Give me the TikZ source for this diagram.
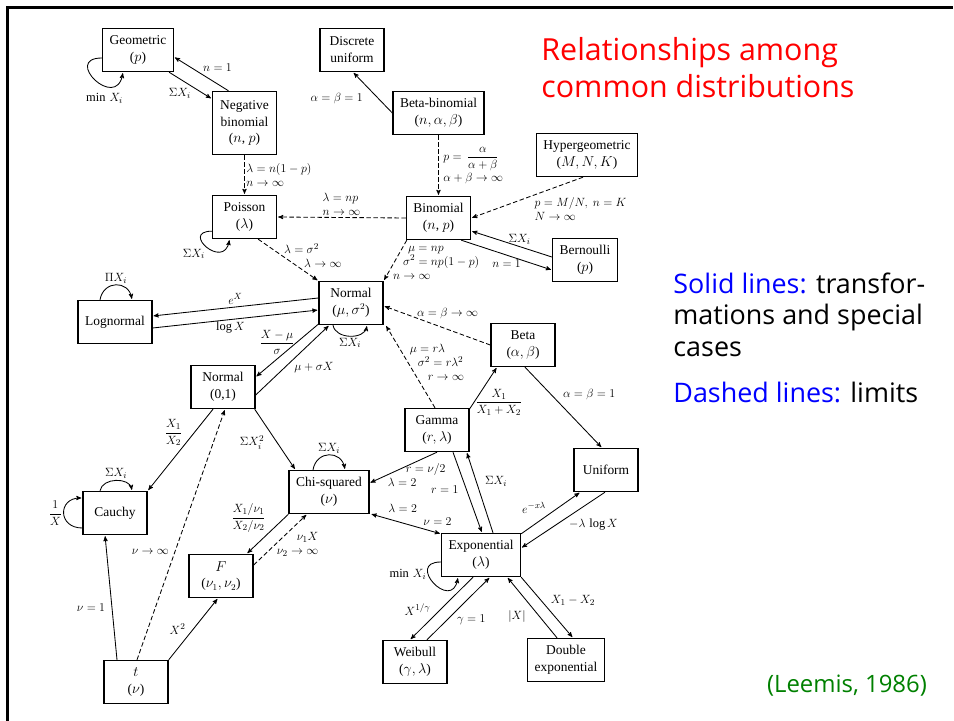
\documentclass[tikz,border=0pt]{standalone}
\usepackage{amsmath}
\usepackage{amssymb}
\usepackage{fontspec}
\setmainfont{Liberation Serif}
\newfontfamily\notefont{Open Sans}
\usepackage{tikz}
\usetikzlibrary{arrows}
\definecolor{leemisgreen}{RGB}{0,128,0}

\begin{document}
\begin{tikzpicture}[x=1bp, y=1bp, ->, >=stealth', shorten >=1pt, line width=0.85bp,
                    font=\fontsize{12.5}{14}\selectfont]

    \tikzstyle{dist}=[draw=black, line width=1.4bp, inner xsep=7bp, inner ysep=5bp,
                      minimum width=64bp, minimum height=43bp, align=center,
                      font=\fontsize{13.5}{17}\selectfont]
    \tikzstyle{lbl}=[inner sep=1.5bp, align=left, font=\fontsize{12.5}{14}\selectfont]
    \tikzstyle{limit}=[dash pattern=on 4.5bp off 2.5bp]

    \useasboundingbox (0,0) rectangle (954,-721);
    \draw[-, line width=2.2bp] (7.5,-721) -- (7.5,-7.5) -- (954,-7.5);

    % distributions
    \node[dist] (geo)     at (138,-50)   {Geometric\\($p$)};
    \node[dist, minimum height=63bp] (negbin) at (244.5,-123) {Negative\\binomial\\($n$, $p$)};
    \node[dist] (dunif)   at (352,-50)   {Discrete\\uniform};
    \node[dist] (betabin) at (438.5,-113) {Beta-binomial\\($n, \alpha, \beta$)};
    \node[dist] (hyper)   at (587,-155)  {Hypergeometric\\($M, N, K$)};
    \node[dist] (poisson) at (244.5,-217) {Poisson\\($\lambda$)};
    \node[dist] (binom)   at (438.5,-218) {Binomial\\($n$, $p$)};
    \node[dist] (bern)    at (585,-260)  {Bernoulli\\($p$)};
    \node[dist] (lognorm) at (115,-322)  {Lognormal};
    \node[dist] (normal)  at (351,-303)  {Normal\\($\mu, \sigma^2$)};
    \node[dist] (beta)    at (523,-345)  {Beta\\($\alpha, \beta$)};
    \node[dist] (stdnorm) at (223,-387)  {Normal\\(0,1)};
    \node[dist] (gamma)   at (437,-430)  {Gamma\\($r, \lambda$)};
    \node[dist] (unif)    at (606,-470)  {Uniform};
    \node[dist] (cauchy)  at (115,-513)  {Cauchy};
    \node[dist] (chisq)   at (329,-492)  {Chi-squared\\($\nu$)};
    \node[dist] (expo)    at (481,-555)  {Exponential\\($\lambda$)};
    \node[dist] (fdist)   at (221,-576)  {$F$\\($\nu_1, \nu_2$)};
    \node[dist] (weib)    at (415,-662)  {Weibull\\($\gamma, \lambda$)};
    \node[dist] (dexp)    at (566,-660)  {Double\\exponential};
    \node[dist] (tdist)   at (136,-682)  {$t$\\($\nu$)};

    % discrete part
    \path ([xshift=-16bp]negbin.north) edge node[lbl, pos=.5, anchor=south west] {$n=1$} ([yshift=-7bp]geo.east)
          ([xshift=-5bp]geo.south east) edge node[lbl, pos=.55, anchor=north east] {$\Sigma X_i$} ([yshift=-8bp]negbin.north west)
          ([yshift=-8bp]geo.west) edge[out=180, in=-100, looseness=4] node[lbl, pos=.65, below=6bp] {$\min\, X_i$} ([xshift=-15bp]geo.south)
          (betabin.west) edge node[lbl, pos=.35, left=14bp] {$\alpha=\beta=1$} ([xshift=1bp]dunif.south)
          (betabin.south) edge[limit] node[lbl, pos=.5, right=3bp] {$p=\,\dfrac{\alpha}{\alpha+\beta}$\\[1bp]$\alpha+\beta\to\infty$} (binom.north)
          ([xshift=-4bp]hyper.south) edge[limit] node[lbl, pos=.45, anchor=north west] {$p=M/N,\ n=K$\\$N\to\infty$} (binom.east)
          (binom.west) edge[limit] node[lbl, pos=.5, above] {$\lambda=np$\\$n\to\infty$} (poisson.east)
          (negbin.south) edge[limit] node[lbl, pos=.5, right] {$\lambda=n(1-p)$\\$n\to\infty$} (poisson.north)
          ([yshift=3bp]bern.west) edge node[lbl, pos=.4, above] {$\Sigma X_i$} ([yshift=-13bp]binom.east)
          ([xshift=-10bp]binom.south east) edge node[lbl, pos=.5, below=3bp] {$n=1$} ([yshift=-10bp]bern.west)
          ([yshift=8bp]poisson.south west) edge[out=180, in=-100, looseness=4.2] node[lbl, pos=.5, below left] {$\Sigma X_i$} ([xshift=-15bp]poisson.south)
    ;

    % limits to the normal
    \path ([xshift=-19bp]poisson.south east) edge[limit] node[lbl, pos=.4, anchor=west] {$\lambda=\sigma^2$\\\hspace*{20bp}$\lambda\to\infty$} (normal.north west)
          ([xshift=1bp]binom.south west) edge[limit] node[lbl, pos=.55, anchor=west, xshift=-3bp] {\hspace*{15bp}$\mu=np$\\\hspace*{10bp}$\sigma^2=np(1-p)$\\$n\to\infty$} (normal.north east)
          (beta.west) edge[limit] node[lbl, pos=.4, above=9bp] {$\alpha=\beta\to\infty$} ([yshift=-3bp]normal.east)
          ([xshift=-2bp]gamma.north) edge[limit] node[lbl, pos=.55, anchor=west] {$\mu=r\lambda$\\\hspace*{8bp}$\sigma^2=r\lambda^2$\\\hspace*{18bp}$r\to\infty$} ([xshift=2bp]normal.south east)
    ;

    % normal family
    \path ([yshift=5bp]normal.west) edge node[lbl, pos=.5, above=1bp] {$e^X$} ([yshift=6bp]lognorm.east)
          ([yshift=-6bp]lognorm.east) edge node[lbl, pos=.47, below] {$\log X$} ([yshift=-7bp]normal.west)
          ([xshift=-15bp]lognorm.north) edge[out=80, in=100, looseness=1.6] node[lbl, above] {$\Pi X_i$} ([xshift=17bp]lognorm.north)
          ([xshift=-18bp]normal.south) edge[out=-80, in=-100, looseness=1.1] node[lbl, below] {$\Sigma X_i$} ([xshift=16bp]normal.south)
          ([yshift=1bp]normal.south west) edge node[lbl, pos=.35, left] {$\dfrac{X-\mu}{\sigma}$} ([yshift=10bp]stdnorm.east)
          ([yshift=-8bp]stdnorm.east) edge node[lbl, pos=.5, below right] {$\mu+\sigma X$} ([xshift=11bp]normal.south west)
          ([xshift=-10bp]stdnorm.south) edge node[lbl, pos=.29, left=10bp] {$\dfrac{X_1}{X_2}$} (cauchy.north east)
          ([xshift=1bp]tdist.north) edge[limit] node[lbl, pos=.43, left=4bp] {$\nu\to\infty$} ([xshift=2bp]stdnorm.south)
          ([xshift=-1bp]stdnorm.south east) edge node[lbl, pos=.55, left=11bp] {$\Sigma X_i^2$} ([xshift=7bp]chisq.north west)
          ([xshift=-15bp]cauchy.north) edge[out=80, in=100, looseness=1.1] node[lbl, above] {$\Sigma X_i$} ([xshift=17bp]cauchy.north)
          ([yshift=-15bp]cauchy.west) edge[out=180, in=180, looseness=2.1] node[lbl, left] {$\dfrac{1}{X}$} ([yshift=15bp]cauchy.west)
          ([xshift=-19bp]tdist.north) edge node[lbl, pos=.42, left=5bp] {$\nu=1$} ([xshift=-10bp]cauchy.south)
          (tdist.north east) edge node[lbl, pos=.5, left=6bp] {$X^2$} ([xshift=-3bp]fdist.south)
          (chisq.south west) edge node[lbl, pos=.5, above left] {$\dfrac{X_1/\nu_1}{X_2/\nu_2}$} ([xshift=-7bp]fdist.north east)
          ([yshift=11bp]fdist.east) edge[limit] node[lbl, pos=.4, right, align=right] {$\nu_1X$\\$\nu_2\to\infty$} ([xshift=-22bp]chisq.south)
          ([xshift=-16bp]chisq.north) edge[out=80, in=100, looseness=1.6] node[lbl, above] {$\Sigma X_i$} ([xshift=16bp]chisq.north)
    ;

    % gamma family
    \path ([yshift=-1bp]gamma.north east) edge node[lbl, pos=.15, right] {$\dfrac{X_1}{X_1+X_2}$} ([xshift=-26bp]beta.south)
          ([xshift=2bp]beta.south) edge node[lbl, pos=.34, right=10bp] {$\alpha=\beta=1$} ([xshift=-4bp]unif.north)
          (gamma.south) edge node[lbl, pos=.3, below] {\hspace*{18bp}$r=\nu/2$\\$\lambda=2$} ([yshift=9bp]chisq.east)
          ([xshift=2bp]chisq.south east) edge[<->] node[lbl, pos=.7, above] {$\lambda=2$\\\hspace*{35bp}$\nu=2$} ([yshift=-1bp]expo.north west)
          ([xshift=16bp]gamma.south) edge node[lbl, pos=.46, left=6bp] {$r=1$} ([xshift=1bp]expo.north)
          ([xshift=12bp]expo.north) edge node[lbl, pos=.64, right=7bp] {$\Sigma X_i$} ([xshift=-3bp]gamma.south east)
          ([yshift=-1bp]expo.north east) edge node[lbl, pos=.45, above left] {$e^{-x\lambda}$} ([xshift=7bp]unif.south west)
          ([xshift=-1bp]unif.south) edge node[lbl, pos=.45, below right] {$-\lambda\,\log X$} ([yshift=7bp]expo.east)
          ([yshift=-7bp]expo.west) edge[out=180, in=-100, looseness=4] node[lbl, pos=.35, left] {$\min\, X_i$} ([xshift=-23bp]expo.south)
          ([xshift=-8bp]expo.south) edge node[lbl, pos=.52, left=8bp] {$X^{1/\gamma}$} ([xshift=-5bp]weib.north)
          ([xshift=12bp]weib.north) edge node[lbl, pos=.32, right=8bp] {$\gamma=1$} ([xshift=9bp]expo.south)
          ([xshift=-9bp]dexp.north) edge node[lbl, pos=.35, left=12bp] {$|X|$} ([xshift=-14bp]expo.south east)
          (expo.south east) edge node[lbl, pos=.38, right=8bp] {$X_1-X_2$} ([xshift=7bp]dexp.north)
    ;

    % notes
    \node[anchor=north west, align=left, text=red, inner sep=0pt,
          font=\notefont\fontsize{30.5}{37}\selectfont] (title) at (541,-37) {Relationships among\\common distributions};
    \node[anchor=north west, align=left, inner sep=0pt,
          font=\notefont\fontsize{27}{32}\selectfont] (legend) at (673,-272)
          {\textcolor{blue}{Solid lines:} transfor-\\mations and special\\cases\\[14bp]\textcolor{blue}{Dashed lines:} limits};
    \node[text=leemisgreen, inner sep=0pt, font=\notefont\fontsize{24}{28}\selectfont] (source) at (847,-686) {(Leemis, 1986)};
\end{tikzpicture}
\end{document}
